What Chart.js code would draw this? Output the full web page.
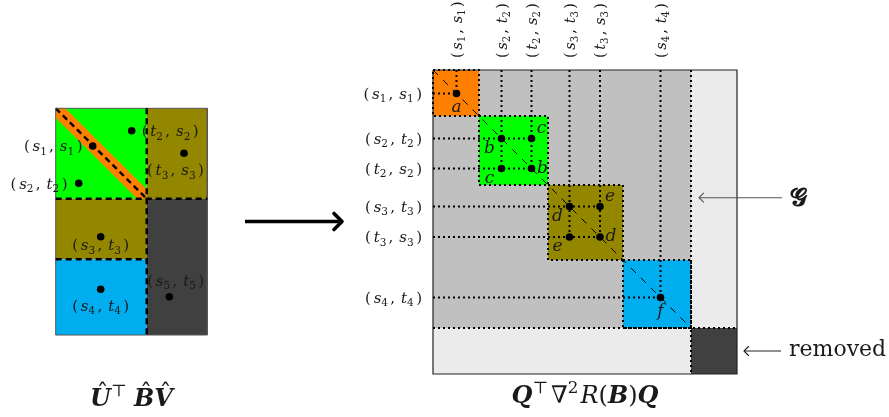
<!DOCTYPE html>
<html>
<head>
<meta charset="utf-8">
<script src="https://cdn.jsdelivr.net/npm/chart.js@4.4.0/dist/chart.umd.min.js"></script>
<style>
  html, body { margin: 0; padding: 0; background: #fff; }
  #wrap { width: 889px; height: 417px; }
</style>
</head>
<body>
<div id="wrap"><canvas id="fig" width="889" height="417"></canvas></div>
<script>
// index pairs labelling rows / columns of the right-hand matrix
const pairLabels = ['(s_1, s_1)', '(s_2, t_2)', '(t_2, s_2)', '(s_3, t_3)', '(t_3, s_3)', '(s_4, t_4)'];
// position of each pair along the matrix (matrix units, 0 = top-left corner)
const pairPos = [23.5, 68.5, 98.5, 136.5, 167, 227.5];
// pairs that share a diagonal block
const pairGroups = [[0], [1, 2], [3, 4], [5]];
// edges of the diagonal blocks, the last block is the removed one
const blockEdges = [0, 46, 115, 190, 258, 304];
const blockNames = ['orange', 'green', 'olive', 'blue', 'removed'];
// entry letters: [row pair, col pair, letter, placement]
const entryLetters = [
  [0, 0, 'a', 'below'],
  [1, 1, 'b', 'lowerLeft'],
  [1, 2, 'c', 'upperRight'],
  [2, 1, 'c', 'lowerLeft'],
  [2, 2, 'b', 'right'],
  [3, 3, 'd', 'lowerLeft'],
  [3, 4, 'e', 'upperRight'],
  [4, 3, 'e', 'lowerLeft'],
  [4, 4, 'd', 'right'],
  [5, 5, 'f', 'below']
];

// left matrix, column / row edges in its own units
const leftColEdges = [0, 91, 151.6];
const leftRowEdges = [0, 90.4, 151, 226.7];
// [col edge from, col edge to, row edge from, row edge to, name]
const leftBlocks = [
  [0, 1, 0, 1, 'green'],
  [1, 2, 0, 1, 'olive'],
  [0, 1, 1, 2, 'olive'],
  [0, 1, 2, 3, 'blue'],
  [1, 2, 1, 3, 'removed']
];
// sampled entries of the left matrix
const leftPointX = [76, 37, 23, 128.3, 45, 45, 113.6];
const leftPointY = [22.4, 37.7, 75, 45, 128.4, 181, 188.4];
// labels next to them: [text, x, y, align]
const leftLabels = [
  ['(t_2, s_2)', 86, 22.7, 'left'],
  ['(s_1, s_1)', 26.8, 37.7, 'right'],
  ['(s_2, t_2)', 11.8, 75, 'right'],
  ['(t_3, s_3)', 119.8, 61.7, 'center'],
  ['(s_3, t_3)', 45, 136.7, 'center'],
  ['(s_4, t_4)', 45, 197.2, 'center'],
  ['(s_5, t_5)', 120, 172.4, 'center']
];

// annotation arrows (figure units)
const mainArrow = [[245, 221.5], [342, 221.5]];
const groupArrow = [[782, 197.7], [699, 197.7]];
const removedArrow = [[781, 351], [744, 351]];

const colours = {
  orange: '#ff8000', green: '#00ff00', olive: '#948700', blue: '#00aeef',
  removed: '#404040', grey: '#c0c0c0', light: '#ebebeb'
};
const SERIF = '"DejaVu Serif", "Liberation Serif", serif';

const F = ['x', 'y'], M = ['mx', 'my'], L = ['lx', 'ly'];
const datasets = [];

function poly(points, ax, opts) {
  datasets.push(Object.assign({
    data: points.map(p => ({ x: p[0], y: p[1] })),
    showLine: true, pointRadius: 0, borderWidth: 0,
    borderColor: 'rgba(0,0,0,0)', fill: false,
    xAxisID: ax[0], yAxisID: ax[1]
  }, opts));
}
function box(x0, x1, y0, y1, ax, colour) {
  poly([[x0, y0], [x1, y0], [x1, y1], [x0, y1], [x0, y0]], ax,
    { fill: 'shape', backgroundColor: colour });
}
function outline(x0, x1, y0, y1, ax, style) {
  poly([[x0, y0], [x1, y0], [x1, y1], [x0, y1], [x0, y0]], ax, style);
}
function dots(xs, ys, ax) {
  datasets.push({
    data: xs.map((x, i) => ({ x: x, y: ys[i] })),
    showLine: false, pointRadius: 3.8, pointBackgroundColor: '#000',
    pointBorderWidth: 0, xAxisID: ax[0], yAxisID: ax[1]
  });
}
function arrow(a, head, ax, style) {
  poly(a, ax, style);
  const [tx, ty] = a[1];
  const dir = Math.sign(a[1][0] - a[0][0]);
  poly([[tx - dir * head, ty - head], [tx, ty], [tx - dir * head, ty + head]], ax,
    Object.assign({}, style, { borderJoinStyle: 'round', borderCapStyle: 'round' }));
}

const dotted = { borderColor: '#000', borderWidth: 2, borderDash: [2, 3] };
const dashed = { borderColor: '#000', borderWidth: 2.4, borderDash: [6, 4] };
const thinDash = { borderColor: '#000', borderWidth: 1, borderDash: [7, 7] };

// ---- left matrix
const LW = leftColEdges[leftColEdges.length - 1], LH = leftRowEdges[leftRowEdges.length - 1];
leftBlocks.forEach(b => box(leftColEdges[b[0]], leftColEdges[b[1]], leftRowEdges[b[2]], leftRowEdges[b[3]], L, colours[b[4]]));
const dx = leftColEdges[1], dy = leftRowEdges[1], band = 9.5;
poly([[0, 0], [band, 0], [dx, dy - band], [dx, dy], [dx - band, dy], [0, band], [0, 0]], L,
  { fill: 'shape', backgroundColor: colours.orange });
poly([[0, 0], [dx, dy]], L, dashed);
outline(0, LW, 0, LH, L, { borderColor: '#555', borderWidth: 1 });
poly([[dx, 0], [dx, LH]], L, dashed);
poly([[0, dy], [LW, dy]], L, dashed);
poly([[0, leftRowEdges[2]], [dx, leftRowEdges[2]]], L, dashed);
dots(leftPointX, leftPointY, L);

// ---- right matrix
const E = blockEdges, N = E[E.length - 1], inner = E[E.length - 2];
box(0, N, 0, N, M, colours.light);
box(0, inner, 0, inner, M, colours.grey);
blockNames.forEach((n, i) => box(E[i], E[i + 1], E[i], E[i + 1], M, colours[n]));
outline(0, N, 0, N, M, { borderColor: '#222', borderWidth: 1.2 });
poly([[0, 0], [inner, inner]], M, thinDash);
for (let i = 0; i < blockNames.length - 1; i++) outline(E[i], E[i + 1], E[i], E[i + 1], M, dotted);
poly([[inner, 0], [inner, N]], M, dotted);
poly([[0, inner], [N, inner]], M, dotted);
const dotX = [], dotY = [];
pairGroups.forEach(g => {
  const end = pairPos[g[g.length - 1]];
  g.forEach(p => {
    poly([[pairPos[p], 0], [pairPos[p], end]], M, dotted);
    poly([[0, pairPos[p]], [end, pairPos[p]]], M, dotted);
    g.forEach(q => { dotX.push(pairPos[q]); dotY.push(pairPos[p]); });
  });
});
dots(dotX, dotY, M);

// ---- arrows
arrow(mainArrow, 8, F, { borderColor: '#000', borderWidth: 3.6 });
arrow(groupArrow, 4.5, F, { borderColor: '#555', borderWidth: 1.1 });
arrow(removedArrow, 4.5, F, { borderColor: '#222', borderWidth: 1.1 });

datasets.forEach((d, i) => { d.order = -i; });

// ---- math-ish text
function parseMath(str) {
  const runs = [];
  for (let i = 0; i < str.length; i++) {
    const ch = str[i];
    if (ch === '_') runs.push({ t: str[++i], k: 'sub' });
    else if (/[a-zA-Z]/.test(ch)) runs.push({ t: ch, k: 'it' });
    else if (ch === ',') runs.push({ t: ' ', k: 'sp', w: 0.15 }, { t: ',', k: 'rm' }, { t: ' ', k: 'sp', w: 0.4 });
    else if (ch === '(') runs.push({ t: '(', k: 'rm' }, { t: ' ', k: 'sp', w: 0.18 });
    else if (ch === ')') runs.push({ t: ' ', k: 'sp', w: 0.16 }, { t: ')', k: 'rm' });
    else if (ch !== ' ') runs.push({ t: ch, k: 'rm' });
  }
  return runs;
}
function fontFor(k, size) {
  if (k === 'it') return `italic ${size}px ${SERIF}`;
  if (k === 'bi' || k === 'hat') return `italic bold ${size}px ${SERIF}`;
  if (k === 'sub' || k === 'sup') return `${(size * 0.7).toFixed(1)}px ${SERIF}`;
  return `${size}px ${SERIF}`;
}
function runWidth(ctx, r, size) {
  if (r.k === 'sp') return r.w * size;
  ctx.font = fontFor(r.k, size);
  return ctx.measureText(r.t).width;
}
function drawRuns(ctx, runs, x, y, size, align) {
  const widths = runs.map(r => runWidth(ctx, r, size));
  const total = widths.reduce((a, b) => a + b, 0);
  let cx = align === 'right' ? x - total : align === 'center' ? x - total / 2 : x;
  const base = y + size * 0.36;
  ctx.textAlign = 'left';
  ctx.textBaseline = 'alphabetic';
  runs.forEach((r, i) => {
    if (r.k !== 'sp') {
      ctx.font = fontFor(r.k, size);
      const off = r.k === 'sub' ? size * 0.22 : r.k === 'sup' ? -size * 0.4 : 0;
      ctx.fillText(r.t, cx, base + off);
      if (r.k === 'hat') {
        ctx.font = `${size}px ${SERIF}`;
        ctx.textAlign = 'center';
        ctx.fillText('\u02C6', cx + widths[i] / 2 + size * 0.08, base - size * 0.2);
        ctx.textAlign = 'left';
      }
    }
    cx += widths[i];
  });
}

const textPlugin = {
  id: 'figureText',
  afterDatasetsDraw(chart) {
    const ctx = chart.ctx, s = chart.scales;
    ctx.save();
    ctx.fillStyle = '#1a1a1a';
    // left matrix labels
    leftLabels.forEach(l => drawRuns(ctx, parseMath(l[0]), s.lx.getPixelForValue(l[1]), s.ly.getPixelForValue(l[2]), 15, l[3]));
    // right matrix row and column labels
    pairLabels.forEach((lab, i) => {
      drawRuns(ctx, parseMath(lab), s.mx.getPixelForValue(-11), s.my.getPixelForValue(pairPos[i]), 15, 'right');
      ctx.save();
      ctx.translate(s.mx.getPixelForValue(pairPos[i]), s.my.getPixelForValue(-12));
      ctx.rotate(-Math.PI / 2);
      drawRuns(ctx, parseMath(lab), 0, 0, 14.5, 'left');
      ctx.restore();
    });
    // entry letters
    const place = { below: [0, 14], lowerLeft: [-12, 10], upperRight: [10, -10], right: [11, 0] };
    ctx.font = `italic 17px ${SERIF}`;
    ctx.textAlign = 'center';
    ctx.textBaseline = 'middle';
    entryLetters.forEach(e => {
      const o = place[e[3]];
      ctx.fillText(e[2], s.mx.getPixelForValue(pairPos[e[1]]) + o[0], s.my.getPixelForValue(pairPos[e[0]]) + o[1]);
    });
    // captions
    drawRuns(ctx, [{ t: 'U', k: 'hat' }, { t: '\u22A4', k: 'sup' }, { t: ' ', k: 'sp', w: 0.3 }, { t: 'B', k: 'hat' }, { t: 'V', k: 'hat' }],
      s.lx.getPixelForValue(LW / 2), s.y.getPixelForValue(397), 24, 'center');
    drawRuns(ctx, [{ t: 'Q', k: 'bi' }, { t: '\u22A4', k: 'sup' }, { t: ' ', k: 'sp', w: 0.12 }, { t: '\u2207', k: 'rm' }, { t: '2', k: 'sup' },
      { t: ' ', k: 'sp', w: 0.08 }, { t: 'R', k: 'it' }, { t: '(', k: 'rm' }, { t: 'B', k: 'bi' }, { t: ')', k: 'rm' }, { t: 'Q', k: 'bi' }],
      s.mx.getPixelForValue(N / 2), s.y.getPixelForValue(394), 24, 'center');
    // arrow labels
    ctx.textAlign = 'left';
    ctx.textBaseline = 'middle';
    ctx.font = `bold 24px ${SERIF}`;
    ctx.fillText('\uD835\uDCD6', s.x.getPixelForValue(790), s.y.getPixelForValue(199));
    ctx.font = `22px ${SERIF}`;
    ctx.fillText('removed', s.x.getPixelForValue(789), s.y.getPixelForValue(350));
    ctx.restore();
  }
};

new Chart(document.getElementById('fig'), {
  type: 'scatter',
  data: { datasets: datasets },
  options: {
    responsive: false,
    animation: false,
    events: [],
    layout: { padding: 0, autoPadding: false },
    scales: {
      x: { type: 'linear', min: 0, max: 889, display: false },
      y: { type: 'linear', min: 0, max: 417, reverse: true, display: false },
      mx: { type: 'linear', axis: 'x', min: -433, max: 456, display: false },
      my: { type: 'linear', axis: 'y', min: -70, max: 347, reverse: true, display: false },
      lx: { type: 'linear', axis: 'x', min: -55.7, max: 833.3, display: false },
      ly: { type: 'linear', axis: 'y', min: -108.3, max: 308.7, reverse: true, display: false }
    },
    plugins: {
      legend: { display: false },
      tooltip: { enabled: false },
      filler: { drawTime: 'beforeDatasetDraw' }
    }
  },
  plugins: [textPlugin]
});
</script>
</body>
</html>
